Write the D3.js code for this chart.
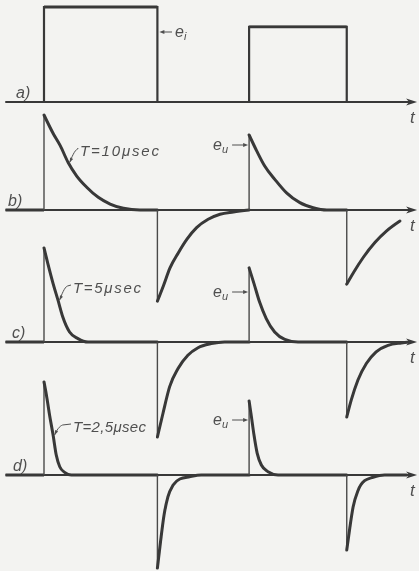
<!DOCTYPE html>
<html>
<head>
<meta charset="utf-8">
<script src="https://cdn.jsdelivr.net/npm/d3@7"></script>
<style>
  html, body { margin: 0; padding: 0; background: #f3f3f1; }
  svg { display: block; }
  text { font-family: "Liberation Sans", "DejaVu Sans", sans-serif; font-style: italic; fill: #505050; }
</style>
</head>
<body>
<svg id="fig" width="419" height="571"></svg>
<script>
// Time axis in µs and the switching instants of the input square wave
const timeSpan = [-11, 106.6];
const edgeTimes = [0, 32.4, 58.6, 86.5];
// Input pulse heights (first pulse taken as 100)
const pulseHeights = [100, 79];

const panelLabels = ["a)", "b)", "c)", "d)"];
const timeConstants = ["T=10μsec", "T=5μsec", "T=2,5μsec"];

// Output e_u of the RC differentiator, [t (µs), value] per switching edge
const outT10 = [
  [[0, 100], [2.7, 80], [4.6, 68], [6.9, 50], [9.3, 36], [12.2, 24], [15.5, 13.4], [18.9, 6.3], [22.7, 1.8], [27.4, 0]],
  [[32.4, -96], [34.1, -80], [36, -61], [38.4, -45], [40.8, -31], [43.6, -18.6], [46.9, -9.8], [50.3, -4.5], [54.1, -2.1], [58.6, 0]],
  [[58.6, 79], [60.8, 62], [63.1, 46], [66, 32], [69.3, 18], [73.1, 7.7], [76.9, 2.4], [80.8, 0]],
  [[86.5, -78], [88.4, -66], [91.2, -50], [94.6, -34], [97.9, -22], [101.7, -11.6]]
];
const outT5 = [
  [[0, 99], [1.1, 82.5], [2.6, 61.5], [4, 44], [5.4, 26], [7.3, 10.5], [9.7, 3.6], [12.6, 0]],
  [[32.4, -100], [34, -75], [35.9, -47], [38.3, -28], [41.1, -14], [44, -6], [47.8, -1.7], [51.6, 0]],
  [[58.6, 78], [60, 61.5], [61.6, 42], [63.5, 24.6], [65.9, 10.5], [68.8, 2.8], [72.6, 0]],
  [[86.5, -79], [87.8, -61], [89.7, -40], [92.1, -22.7], [94.9, -10.5], [98.3, -3.5], [102.1, -1], [104.5, 0]]
];
const outT25 = [
  [[0, 98], [0.7, 84], [1.6, 63], [2.6, 42], [3.5, 21], [4.5, 8.7], [5.9, 2.8], [7.8, 0]],
  [[32.4, -98], [33.3, -70], [34.3, -42], [35.4, -23], [36.9, -10.5], [38.8, -4.2], [41.6, -1.8], [44.9, 0]],
  [[58.6, 78], [59.2, 63], [60, 42], [60.9, 23], [62.1, 10.5], [64, 3.5], [66.9, 0]],
  [[86.5, -79], [87.4, -55], [88.3, -34], [89.7, -16.5], [91.6, -6], [94, -2.4], [97.3, 0]]
];

const W = 419, H = 571;
const ink = "#383838";
const svg0 = d3.select("#fig");

svg0.append("rect").attr("width", W).attr("height", H).attr("fill", "#f3f3f1");

// light softening of the printed linework
svg0.append("defs").append("filter").attr("id", "soft")
  .append("feGaussianBlur").attr("stdDeviation", 0.35);
const svg = svg0.append("g").attr("filter", "url(#soft)");

// Shared time scale, one amplitude scale per trace
const x = d3.scaleLinear().domain([0, 100]).range([44, 394]);
const baselines = [102, 210, 342, 475];
const ys = baselines.map(b => d3.scaleLinear().domain([0, 100]).range([b, b - 95]));

const tipT = timeSpan[1];

// Time axes with arrowheads, panel letters and the "t" labels
baselines.forEach((b, i) => {
  const y = ys[i];
  const g = svg.append("g");
  g.append("line")
    .attr("x1", x(timeSpan[0])).attr("x2", x(tipT) - 6)
    .attr("y1", y(0)).attr("y2", y(0))
    .attr("stroke", ink).attr("stroke-width", 1.8);
  const tx = x(tipT), ty = y(0);
  g.append("path")
    .attr("d", `M${tx},${ty} L${tx - 11},${ty - 3.4} L${tx - 8},${ty} L${tx - 11},${ty + 3.4} Z`)
    .attr("fill", ink);
  g.append("text").text("t")
    .attr("x", tx - 7).attr("y", ty + 21)
    .attr("font-size", 17);
  g.append("text").text(panelLabels[i])
    .attr("x", [16, 8, 12, 13][i]).attr("y", ty - 4)
    .attr("font-size", 16);
});

// a) input square wave e_i
const ya = ys[0];
const inputPts = [
  [timeSpan[0], 0], [edgeTimes[0], 0], [edgeTimes[0], pulseHeights[0]], [edgeTimes[1], pulseHeights[0]],
  [edgeTimes[1], 0], [edgeTimes[2], 0], [edgeTimes[2], pulseHeights[1]], [edgeTimes[3], pulseHeights[1]],
  [edgeTimes[3], 0], [tipT - 3, 0]
];
svg.append("path")
  .attr("d", d3.line().x(d => x(d[0])).y(d => ya(d[1]))(inputPts))
  .attr("fill", "none").attr("stroke", ink).attr("stroke-width", 2.2)
  .attr("stroke-linejoin", "miter");
// heavier pulse tops
[[0, 1, 0], [2, 3, 1]].forEach(([s, e, h]) => {
  svg.append("line")
    .attr("x1", x(edgeTimes[s])).attr("x2", x(edgeTimes[e]))
    .attr("y1", ya(pulseHeights[h])).attr("y2", ya(pulseHeights[h]))
    .attr("stroke", ink).attr("stroke-width", 2.8);
});

// Small pointer arrow used by e_i / e_u labels
function pointer(x0, x1, y) {
  const dir = Math.sign(x1 - x0);
  svg.append("line").attr("x1", x0).attr("x2", x1 - dir * 3).attr("y1", y).attr("y2", y)
    .attr("stroke", "#505050").attr("stroke-width", 1);
  svg.append("path")
    .attr("d", `M${x1},${y} L${x1 - dir * 5},${y - 2} L${x1 - dir * 5},${y + 2} Z`)
    .attr("fill", "#505050");
}

function subLabel(xp, yp, main, sub) {
  const t = svg.append("text").attr("x", xp).attr("y", yp).attr("font-size", 16);
  t.append("tspan").text(main);
  t.append("tspan").text(sub).attr("font-size", 11).attr("dy", 3);
}

pointer(172, x(edgeTimes[1]) + 2, 32);
subLabel(175, 37, "e", "i");

// b), c), d) differentiated outputs
const outputs = [outT10, outT5, outT25];
const leaderAnchors = [3, 3, 3];              // index of curve point the T-label points to
const leaderText = [[80, 156, 79], [73, 293, 68], [73, 432, 73]];
const euY = [145, 292, 420];

outputs.forEach((segs, p) => {
  const y = ys[p + 1];
  const line = d3.line().x(d => x(d[0])).y(d => y(d[1])).curve(d3.curveMonotoneX);

  // zero run before the first edge
  svg.append("line")
    .attr("x1", x(timeSpan[0])).attr("x2", x(edgeTimes[0]))
    .attr("y1", y(0)).attr("y2", y(0))
    .attr("stroke", ink).attr("stroke-width", 3);

  segs.forEach((seg, k) => {
    // vertical jump at the switching edge
    svg.append("line")
      .attr("x1", x(edgeTimes[k])).attr("x2", x(edgeTimes[k]))
      .attr("y1", y(0)).attr("y2", y(seg[0][1]))
      .attr("stroke", "#4a4a4a").attr("stroke-width", 1.4);
    // decay curve, carried along the axis until the next edge once it has settled
    const pts = seg.slice();
    const last = pts[pts.length - 1];
    if (last[1] === 0) {
      const nextT = k < 3 ? edgeTimes[k + 1] : tipT - 3;
      if (nextT > last[0]) pts.push([nextT, 0]);
    }
    svg.append("path")
      .attr("d", line(pts))
      .attr("fill", "none").attr("stroke", ink).attr("stroke-width", 3)
      .attr("stroke-linecap", "round").attr("stroke-linejoin", "round");
  });

  // T-label with its leader
  const a = segs[0][leaderAnchors[p]];
  const ax = x(a[0]) + 1.5, ay = y(a[1]);
  const [tx, tyb, tl] = leaderText[p];
  const hy = tyb - 7;
  svg.append("path")
    .attr("d", `M${ax},${ay} C${ax + 2},${ay - 5} ${ax + 5},${hy + 1} ${ax + 8},${hy} L${tx - 2},${hy - 1}`)
    .attr("fill", "none").attr("stroke", "#505050").attr("stroke-width", 1);
  svg.append("path")
    .attr("d", `M${ax},${ay} L${ax + 0.5},${ay - 5} L${ax + 3.5},${ay - 3.5} Z`)
    .attr("fill", "#505050");
  svg.append("text").text(timeConstants[p])
    .attr("x", tx).attr("y", tyb)
    .attr("font-size", 15)
    .attr("textLength", tl).attr("lengthAdjust", "spacing");

  // e_u pointer to the second rising edge
  const ex = x(edgeTimes[2]);
  pointer(ex - 17, ex - 1, euY[p]);
  subLabel(ex - 36, euY[p] + 5, "e", "u");
});
</script>
</body>
</html>
